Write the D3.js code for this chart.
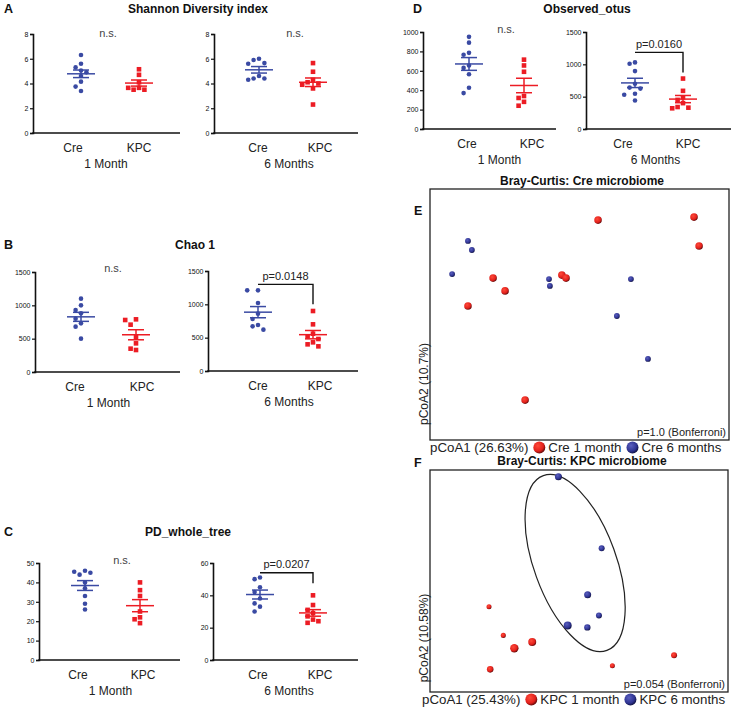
<!DOCTYPE html>
<html><head><meta charset="utf-8">
<script src="https://cdn.jsdelivr.net/npm/d3@7"></script>
<style>body{margin:0;background:#fff} svg{display:block}</style>
</head><body><svg id="c" width="733" height="710"></svg>
<script>
// ---------------- DATA ----------------
const groups = ["Cre", "KPC"];
const shannon1M_Cre = [6.3, 5.6, 5.3, 5.05, 4.9, 4.6, 4.15, 3.75, 3.4];
const shannon1M_KPC = [5.15, 4.7, 4.1, 3.65, 3.5, 3.5, 3.65];
const shannon6M_Cre = [6.0, 5.9, 5.65, 5.6, 4.6, 4.4, 4.4, 4.3];
const shannon6M_KPC = [5.65, 4.95, 4.3, 4.1, 4.0, 3.9, 3.6, 2.3];
const chao1M_Cre = [1100, 1000, 930, 880, 800, 730, 680, 500];
const chao1M_KPC = [790, 780, 710, 520, 430, 350, 330];
const chao6M_Cre = [1210, 1210, 1020, 860, 780, 690, 670, 620];
const chao6M_KPC = [900, 700, 560, 520, 480, 430, 400, 370];
const pd1M_Cre = [46, 45.5, 45, 44, 40, 37, 33, 29, 26];
const pd1M_KPC = [40, 36, 33, 25, 22, 21, 19];
const pd6M_Cre = [51, 50, 45, 42, 38, 35, 33, 30];
const pd6M_KPC = [40, 34, 31, 29, 27, 25, 24, 23];
const otus1M_Cre = [950, 890, 785, 765, 655, 630, 565, 425, 370];
const otus1M_KPC = [715, 655, 590, 340, 320, 280, 240];
const otus6M_Cre = [1030, 1010, 895, 700, 640, 625, 545, 530, 440];
const otus6M_KPC = [780, 590, 490, 450, 400, 340, 330, 320];

// PCoA coordinates (arbitrary 0-100 units on pCoA1 / pCoA2)
const pcoaCre_1M = [[56.2,87.6],[88.3,88.8],[90.0,77.3],[21.1,64.5],[25.1,59.4],[12.7,53.4],[44.1,65.7],[45.5,64.5],[31.8,15.9]];
const pcoaCre_6M = [[12.7,79.3],[14.0,75.7],[7.4,66.1],[39.8,64.1],[40.1,61.4],[67.2,64.1],[62.5,49.4],[72.9,32.3]];
const pcoaKPC_1M = [[19.8,38.4],[24.6,25.5],[28.3,19.7],[34.3,22.5],[20.2,10.2],[61.2,11.8],[81.9,16.5]];
const pcoaKPC_6M = [[43.1,97.0],[57.6,64.7],[52.9,43.8],[56.7,34.5],[46.2,30.0],[52.8,29.1]];
const pcoaKPC_1M_depth = [0.1, 0.1, 0.86, 0.77, 0.45, 0.1, 0.32];
const pcoaKPC_6M_depth = [0.55, 0.32, 0.55, 0.32, 0.77, 0.4];
const kpc6M_ellipse = {center: [48.7, 58.1], a: 31.2, b: 13.8, angle: 70};

// ---------------- DRAW ----------------
const FONT = '"Liberation Sans", Arial, Helvetica, sans-serif';
const BLUE = "#3a4aa3", RED = "#ec1c24";
const svg = d3.select("#c");
svg.append("rect").attr("width", 733).attr("height", 710).attr("fill", "#fff");

const defs = svg.append("defs");
function grad(id, c0, c1, c2) {
  const g = defs.append("radialGradient").attr("id", id).attr("cx", "38%").attr("cy", "35%").attr("r", "65%");
  g.append("stop").attr("offset", "0%").attr("stop-color", c0);
  g.append("stop").attr("offset", "70%").attr("stop-color", c1);
  g.append("stop").attr("offset", "100%").attr("stop-color", c2);
}
grad("gRed", "#ff4a3a", "#e2201b", "#6a0c0c");
grad("gBlue", "#5a5fc0", "#2f3492", "#14164a");

function txt(x, y, s, size, opt = {}) {
  return svg.append("text").attr("x", x).attr("y", y).text(s)
    .attr("font-family", FONT).attr("font-size", size)
    .attr("font-weight", opt.bold ? "bold" : "normal")
    .attr("text-anchor", opt.anchor || "start")
    .attr("fill", opt.fill || "#111");
}

// headings
txt(4, 13, "A", 12.5, {bold: true});
txt(198, 13, "Shannon Diversity index", 12, {bold: true, anchor: "middle"});
txt(4, 249, "B", 12.5, {bold: true});
txt(195, 249, "Chao 1", 12, {bold: true, anchor: "middle"});
txt(4, 536, "C", 12.5, {bold: true});
txt(188, 536, "PD_whole_tree", 12, {bold: true, anchor: "middle"});
txt(413, 13, "D", 12.5, {bold: true});
txt(587, 13, "Observed_otus", 12, {bold: true, anchor: "middle"});
txt(414, 215, "E", 12.5, {bold: true});
txt(582, 185, "Bray-Curtis: Cre microbiome", 12, {bold: true, anchor: "middle"});
txt(414, 467, "F", 12.5, {bold: true});
txt(582, 465, "Bray-Curtis: KPC microbiome", 12, {bold: true, anchor: "middle"});

const panels = [
  {cre: shannon1M_Cre, kpc: shannon1M_KPC, max: 8, ticks: [0,2,4,6,8], x0: 33, x1: 180, yTop: 34, yBot: 133, cx: [81,139], lx: [73,139], month: "1 Month", ns: [108,37]},
  {cre: shannon6M_Cre, kpc: shannon6M_KPC, max: 8, ticks: [0,2,4,6,8], x0: 214, x1: 358, yTop: 34, yBot: 133, cx: [259,313], lx: [258,320], month: "6 Months", ns: [295,37]},
  {cre: chao1M_Cre, kpc: chao1M_KPC, max: 1500, ticks: [0,500,1000,1500], x0: 35, x1: 180, yTop: 272, yBot: 372, cx: [81,136], lx: [75,142], month: "1 Month", ns: [113,272]},
  {cre: chao6M_Cre, kpc: chao6M_KPC, max: 1500, ticks: [0,500,1000,1500], x0: 208, x1: 358, yTop: 271, yBot: 371, cx: [258,313], lx: [258,320], month: "6 Months", p: "p=0.0148", br: [1300,1000]},
  {cre: pd1M_Cre, kpc: pd1M_KPC, max: 50, ticks: [0,10,20,30,40,50], x0: 39, x1: 180, yTop: 563, yBot: 660, cx: [85,140], lx: [78,143], month: "1 Month", ns: [122,564]},
  {cre: pd6M_Cre, kpc: pd6M_KPC, max: 60, ticks: [0,20,40,60], x0: 213, x1: 358, yTop: 563, yBot: 660, cx: [260,313], lx: [258,320], month: "6 Months", p: "p=0.0207", br: [54,47.5]},
  {cre: otus1M_Cre, kpc: otus1M_KPC, max: 1000, ticks: [0,200,400,600,800,1000], x0: 423, x1: 556, yTop: 32, yBot: 129, cx: [469,524], lx: [467,532], month: "1 Month", ns: [506,33]},
  {cre: otus6M_Cre, kpc: otus6M_KPC, max: 1500, ticks: [0,500,1000,1500], x0: 586, x1: 731, yTop: 32, yBot: 129, cx: [635,683], lx: [623,688], month: "6 Months", p: "p=0.0160", br: [1185,875]},
];

function swarm(vals, cx, y, r, step) {
  const placed = [], out = new Array(vals.length);
  const order = vals.map((v, i) => i).sort((a, b) => vals[b] - vals[a]);
  order.forEach(i => {
    const py = y(vals[i]);
    let px;
    for (let k = 0; k < 40; k++) {
      const off = k === 0 ? 0 : (k % 2 ? -Math.ceil(k / 2) : Math.ceil(k / 2)) * step;
      px = cx + off;
      if (placed.every(q => Math.hypot(q[0] - px, q[1] - py) >= 2 * r + 0.9)) break;
    }
    placed.push([px, py]); out[i] = [px, py];
  });
  return out;
}

panels.forEach(p => {
  const g = svg.append("g");
  const y = d3.scaleLinear().domain([0, p.max]).range([p.yBot, p.yTop]);
  const x = d3.scaleOrdinal().domain(groups).range(p.cx);
  const xl = d3.scaleOrdinal().domain(groups).range(p.lx);
  const axis = d3.axisLeft(y).tickValues(p.ticks).tickSize(3).tickPadding(1.5).tickFormat(d3.format("d"));
  g.append("g").attr("transform", `translate(${p.x0},0)`).call(axis).call(s => {
    s.select(".domain").attr("stroke", "#111").attr("stroke-width", 1.6);
    s.selectAll(".tick line").attr("stroke", "#111").attr("stroke-width", 1.2);
    s.selectAll("text").attr("font-size", 7).attr("font-family", FONT).attr("fill", "#111");
  });
  g.append("line").attr("x1", p.x0 - 0.8).attr("x2", p.x1).attr("y1", p.yBot).attr("y2", p.yBot)
    .attr("stroke", "#111").attr("stroke-width", 1.6);

  [["Cre", p.cre, BLUE], ["KPC", p.kpc, RED]].forEach(([grp, vals, col]) => {
    const pos = swarm(vals, x(grp), y, 2.3, 5.4);
    if (grp === "Cre") {
      g.selectAll(null).data(pos).join("circle").attr("cx", d => d[0]).attr("cy", d => d[1]).attr("r", 2.3).attr("fill", col);
    } else {
      g.selectAll(null).data(pos).join("rect").attr("x", d => d[0] - 2.3).attr("y", d => d[1] - 2.3)
        .attr("width", 4.6).attr("height", 4.6).attr("fill", col);
    }
    const m = d3.mean(vals), se = d3.deviation(vals) / Math.sqrt(vals.length);
    const c = x(grp);
    g.append("line").attr("x1", c - 14).attr("x2", c + 14).attr("y1", y(m)).attr("y2", y(m)).attr("stroke", col).attr("stroke-width", 1.5);
    g.append("line").attr("x1", c).attr("x2", c).attr("y1", y(m - se)).attr("y2", y(m + se)).attr("stroke", col).attr("stroke-width", 1.5);
    [m - se, m + se].forEach(v => g.append("line").attr("x1", c - 8).attr("x2", c + 8).attr("y1", y(v)).attr("y2", y(v)).attr("stroke", col).attr("stroke-width", 1.5));
    txt(xl(grp), p.yBot + 19, grp, 12, {anchor: "middle", fill: "#222"});
  });
  txt((p.lx[0] + p.lx[1]) / 2, p.yBot + 35, p.month, 12, {anchor: "middle", fill: "#222"});

  if (p.ns) txt(p.ns[0], p.ns[1], "n.s.", 11, {anchor: "middle", fill: "#444"});
  if (p.p) {
    const xa = x("Cre"), xb = x("KPC");
    g.append("path").attr("d", `M${xa},${y(p.br[0])}H${xb}V${y(p.br[1])}`).attr("fill", "none").attr("stroke", "#111").attr("stroke-width", 1.4);
    txt((xa + xb) / 2, y(p.br[0]) - 4.5, p.p, 11, {anchor: "middle", fill: "#222"});
  }
});

// ---------------- PCoA panels ----------------
function pcoa(cfg) {
  const xs = d3.scaleLinear().domain([0, 100]).range([cfg.left, cfg.right]);
  const ys = d3.scaleLinear().domain([0, 100]).range([cfg.bottom, cfg.top]);
  const g = svg.append("g");
  g.append("rect").attr("x", cfg.left).attr("y", cfg.top).attr("width", cfg.right - cfg.left).attr("height", cfg.bottom - cfg.top)
    .attr("fill", "none").attr("stroke", "#222").attr("stroke-width", 1.3);
  if (cfg.ellipse) {
    const e = cfg.ellipse, k = xs(1) - xs(0);
    g.append("ellipse").attr("cx", xs(e.center[0])).attr("cy", ys(e.center[1])).attr("rx", e.a * k).attr("ry", e.b * k)
      .attr("transform", `rotate(${e.angle},${xs(e.center[0])},${ys(e.center[1])})`)
      .attr("fill", "none").attr("stroke", "#222").attr("stroke-width", 1.2);
  }
  const rs = d3.scaleLinear().domain([0, 1]).range([2.3, 4.5]);
  const series = [[cfg.red, cfg.redDepth, "url(#gRed)", cfg.rRed], [cfg.blue, cfg.blueDepth, "url(#gBlue)", cfg.rBlue]];
  series.forEach(([pts, depth, fill, r0]) => {
    g.selectAll(null).data(pts).join("circle").attr("cx", d => xs(d[0])).attr("cy", d => ys(d[1]))
      .attr("r", (d, i) => depth ? rs(depth[i]) : r0).attr("fill", fill);
  });
  txt(cfg.right - 3, cfg.bottom - 4, cfg.pText, 11, {anchor: "end", fill: "#222"});
  svg.append("text").attr("transform", `translate(${cfg.left - 2},${cfg.ylabY}) rotate(-90)`)
    .attr("text-anchor", "middle").attr("font-family", FONT).attr("font-size", 12).attr("fill", "#222").text(cfg.ylab);
  // legend
  let lx = cfg.legX;
  const t1 = txt(lx, cfg.legY, cfg.xlab, 13.3, {fill: "#222"});
  lx += t1.node().getComputedTextLength() + 11;
  svg.append("circle").attr("cx", lx).attr("cy", cfg.legY - 4.5).attr("r", 6).attr("fill", "url(#gRed)");
  lx += 9;
  const t2 = txt(lx, cfg.legY, cfg.leg1, 13.3, {fill: "#222"});
  lx += t2.node().getComputedTextLength() + 11;
  svg.append("circle").attr("cx", lx).attr("cy", cfg.legY - 4.5).attr("r", 6).attr("fill", "url(#gBlue)");
  lx += 9;
  txt(lx, cfg.legY, cfg.leg2, 13.3, {fill: "#222"});
}

pcoa({left: 430, right: 729, top: 189, bottom: 440, red: pcoaCre_1M, blue: pcoaCre_6M, rRed: 3.8, rBlue: 2.9,
  pText: "p=1.0 (Bonferroni)", ylab: "pCoA2 (10.7%)", ylabY: 384, legX: 430, legY: 452,
  xlab: "pCoA1 (26.63%)", leg1: "Cre 1 month", leg2: "Cre 6 months"});
pcoa({left: 430, right: 728, top: 470, bottom: 692, red: pcoaKPC_1M, blue: pcoaKPC_6M, redDepth: pcoaKPC_1M_depth, blueDepth: pcoaKPC_6M_depth,
  ellipse: kpc6M_ellipse, pText: "p=0.054 (Bonferroni)", ylab: "pCoA2 (10.58%)", ylabY: 638, legX: 422, legY: 704,
  xlab: "pCoA1 (25.43%)", leg1: "KPC 1 month", leg2: "KPC 6 months"});
</script>
</body></html>
